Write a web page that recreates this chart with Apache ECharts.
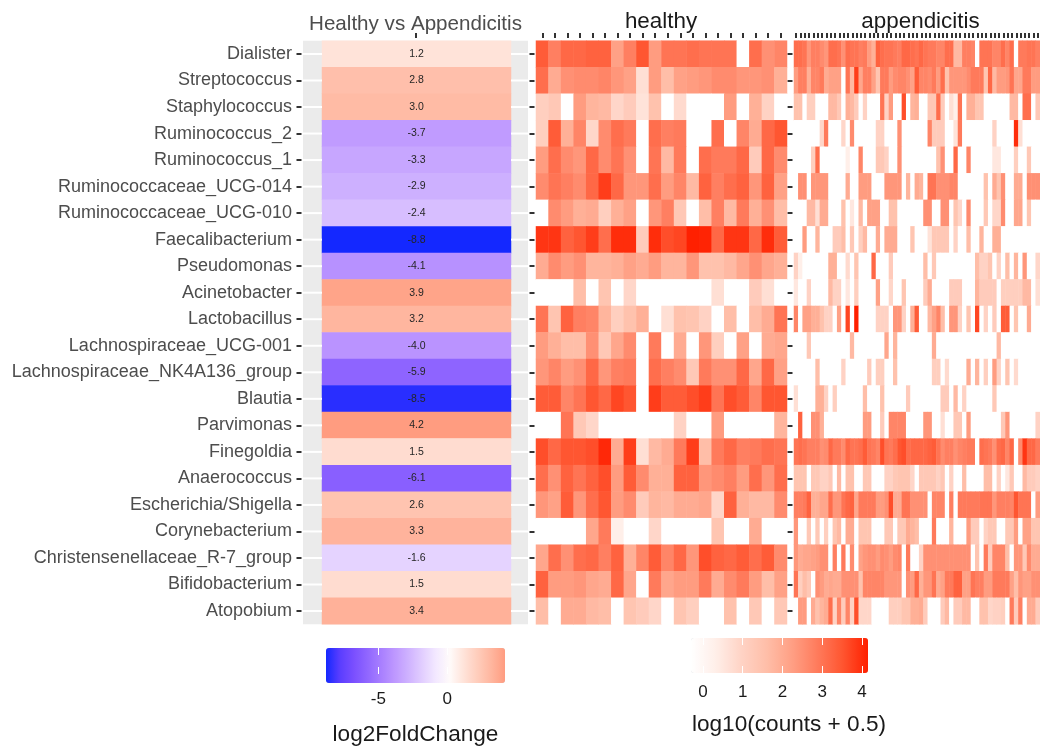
<!DOCTYPE html>
<html><head><meta charset="utf-8">
<style>html,body{margin:0;padding:0;background:#fff;overflow:hidden}#c{width:1040px;height:747px;filter:blur(0.45px)}</style>
<script src="https://cdn.jsdelivr.net/npm/echarts@6/dist/echarts.min.js"></script>
</head><body><div id="c"></div>
<script>
const taxa=["Dialister","Streptococcus","Staphylococcus","Ruminococcus_2","Ruminococcus_1","Ruminococcaceae_UCG-014","Ruminococcaceae_UCG-010","Faecalibacterium","Pseudomonas","Acinetobacter","Lactobacillus","Lachnospiraceae_UCG-001","Lachnospiraceae_NK4A136_group","Blautia","Parvimonas","Finegoldia","Anaerococcus","Escherichia/Shigella","Corynebacterium","Christensenellaceae_R-7_group","Bifidobacterium","Atopobium"];
const log2FoldChange=[1.2,2.8,3.0,-3.7,-3.3,-2.9,-2.4,-8.8,-4.1,3.9,3.2,-4.0,-5.9,-8.5,4.2,1.5,-6.1,2.6,3.3,-1.6,1.5,3.4];
const lfcTicks=[-5,0];
const countTicks=[0,1,2,3,4];
const healthy=[
[3.4,2.8,3.2,3.2,3.3,3.3,2.2,2.8,3.5,2.3,3.0,3.0,3.1,3.0,3.0,3.0,-0.3,3.1,2.5,2.7],
[3.1,2.0,2.5,2.6,2.6,2.7,2.4,2.2,0.7,2.3,1.6,2.2,2.3,2.4,2.6,2.6,2.4,2.4,2.5,1.9],
[1.1,1.3,-0.3,2.3,1.8,1.7,0.9,1.2,0.6,1.5,-0.3,0.8,-0.3,-0.3,-0.3,2.3,-0.3,1.9,1.0,-0.3],
[1.1,3.4,1.9,2.7,0.9,2.6,3.1,2.9,-0.3,3.1,2.8,2.9,-0.3,-0.3,3.1,-0.3,2.7,2.0,3.2,3.5],
[2.3,3.1,2.6,2.4,3.2,2.6,3.0,2.5,-0.3,3.0,1.7,2.9,-0.3,3.1,2.9,2.9,3.2,1.2,3.2,2.6],
[2.6,3.0,2.8,2.6,3.2,3.8,3.2,2.4,2.4,3.1,2.3,2.7,1.7,3.3,2.8,3.1,3.3,2.4,3.3,2.2],
[-0.3,2.6,2.3,1.9,2.0,1.1,1.9,2.2,-0.3,2.4,2.8,1.3,-0.3,1.6,2.8,1.7,2.9,1.9,2.5,1.6],
[3.9,3.9,3.3,3.5,3.8,3.1,4.0,4.0,1.2,4.0,3.6,3.7,4.15,4.1,3.2,3.9,3.9,3.2,4.0,3.4],
[2.0,2.6,2.3,2.5,1.8,1.8,1.9,2.2,2.0,2.3,1.8,1.8,2.4,1.5,1.5,1.7,2.1,2.5,2.1,1.9],
[-0.3,-0.3,-0.3,1.6,-0.3,1.4,-0.3,0.9,-0.3,-0.3,-0.3,-0.3,-0.3,-0.3,0.7,-0.3,-0.3,1.2,0.7,-0.3],
[3.0,1.4,3.3,2.8,2.7,1.8,1.1,1.5,1.9,-0.3,0.7,1.5,1.4,1.0,-0.3,1.6,-0.3,1.6,2.0,3.0],
[2.3,1.9,1.6,1.6,2.5,1.3,2.1,2.6,-0.3,2.9,-0.3,2.0,-0.3,2.4,1.1,-0.3,2.2,-0.3,2.0,2.1],
[2.4,2.7,2.3,2.5,3.2,2.4,2.8,2.9,-0.3,3.1,2.8,2.6,1.3,2.9,2.5,2.5,3.2,2.1,3.2,2.2],
[3.4,3.4,2.7,3.0,3.5,3.2,3.7,3.5,-0.3,3.8,3.4,3.4,3.6,3.8,3.0,3.6,3.4,2.7,3.5,3.5],
[-0.3,-0.3,3.0,1.3,0.9,-0.3,-0.3,-0.3,-0.3,-0.3,-0.3,1.0,-0.3,-0.3,2.3,-0.3,-0.3,-0.3,-0.3,1.8],
[3.6,3.2,3.5,3.5,3.6,4.05,2.0,3.8,0.7,1.7,2.0,2.9,3.8,1.6,2.9,3.2,2.8,2.9,3.1,3.0],
[3.1,2.5,3.3,3.0,3.3,3.6,2.3,3.4,2.6,1.9,1.9,3.3,3.3,2.4,2.6,2.8,2.3,3.1,2.4,3.1],
[2.4,2.2,3.4,2.4,3.1,3.5,2.3,2.6,1.2,1.8,1.7,2.0,2.0,2.1,0.9,3.3,1.9,1.7,1.7,2.6],
[-0.3,-0.3,-0.3,-0.3,2.1,2.9,0.3,-0.3,-0.3,0.9,-0.3,-0.3,-0.3,-0.3,1.4,-0.3,-0.3,2.0,-0.3,-0.3],
[2.1,3.1,2.5,3.1,3.2,2.8,3.3,1.9,2.7,3.4,2.7,3.2,2.4,3.6,3.3,3.2,3.4,3.1,3.4,2.6],
[3.3,2.3,2.3,2.4,2.1,2.0,3.2,2.1,-0.3,2.9,2.1,2.3,2.3,2.9,2.0,2.6,2.9,2.3,1.6,2.2],
[1.6,-0.3,2.0,2.0,1.7,1.6,-0.3,1.4,1.2,0.9,-0.3,1.4,1.1,-0.3,-0.3,1.5,-0.3,1.3,-0.3,1.3]];
const appendicitis=[
[3.1,3.1,3.0,2.4,2.8,2.8,2.6,2.4,3.1,3.1, 3.0,2.5,3.1,3.0,3.0,2.8,2.9,2.3,1.9,3.3, 3.1,3.0,3.0,2.9,2.8,3.2,3.2,3.1,3.0,3.2, 3.0,2.9,2.9,2.7,2.7,3.1,3.1,1.7,1.7,2.8, 2.8,2.7,-0.3,3.0,3.0,3.0,2.7,2.7,3.1,2.7, 3.1,-0.3,2.9,2.9,3.0,3.0,2.8],
[2.3,2.8,2.8,1.9,2.7,2.7,2.9,2.0,2.2,2.2, 2.2,-0.3,3.0,1.7,3.8,2.1,2.8,2.8,2.2,1.4, 2.9,2.9,2.3,2.6,2.7,2.7,2.5,2.2,3.4,2.7, 2.7,2.6,2.9,2.3,3.1,1.5,2.4,2.4,2.4,2.4, 2.6,2.9,2.9,2.9,1.4,3.2,1.7,2.3,2.3,2.4, 3.0,2.1,2.1,2.9,2.9,2.3,2.3],
[1.5,1.5,-0.3,1.1,1.1,-0.3,-0.3,-0.3,1.7,1.7, 1.3,-0.3,1.9,1.7,1.2,-0.3,1.0,-0.3,-0.3,-0.3, 3.0,1.0,2.3,-0.3,-0.3,3.6,-0.3,1.8,1.9,-0.3, -0.3,1.3,1.3,3.1,1.2,-0.3,0.7,0.3,3.0,-0.3, 1.9,1.9,1.4,1.4,-0.3,-0.3,-0.3,-0.3,-0.3,-0.3, 1.7,1.7,-0.3,3.1,3.1,-0.3,1.3],
[-0.3,-0.3,-0.3,-0.3,-0.3,-0.3,0.9,2.9,-0.3,-0.3, -0.3,0.9,-0.3,2.6,-0.3,-0.3,-0.3,-0.3,-0.3,1.0, 1.0,-0.3,-0.3,-0.3,2.5,-0.3,-0.3,-0.3,-0.3,-0.3, -0.3,2.7,1.2,1.2,1.2,-0.3,-0.3,0.6,2.9,-0.3, -0.3,-0.3,-0.3,-0.3,-0.3,-0.3,1.0,-0.3,-0.3,-0.3, -0.3,4.0,0.7,-0.3,-0.3,-0.3,-0.3],
[-0.3,-0.3,-0.3,-0.3,1.1,3.1,-0.3,-0.3,-0.3,-0.3, -0.3,-0.3,0.3,-0.3,-0.3,2.7,-0.3,-0.3,-0.3,1.3, 1.3,1.0,-0.3,-0.3,2.5,-0.3,-0.3,-0.3,-0.3,-0.3, -0.3,-0.3,-0.3,1.5,2.5,-0.3,-0.3,3.2,-0.3,-0.3, 2.7,-0.3,-0.3,-0.3,-0.3,-0.3,0.5,0.5,-0.3,-0.3, -0.3,1.1,-0.3,-0.3,1.3,-0.3,-0.3],
[-0.3,2.5,2.5,-0.3,2.4,2.4,2.4,2.4,-0.3,-0.3, -0.3,-0.3,2.0,-0.3,-0.3,2.3,2.3,2.3,-0.3,-0.3, -0.3,2.4,2.4,2.4,2.4,-0.3,1.8,-0.3,2.0,1.8, -0.3,3.0,3.0,2.5,2.5,2.5,2.7,2.7,-0.3,-0.3, -0.3,-0.3,-0.3,-0.3,1.5,-0.3,2.0,1.4,2.5,-0.3, -0.3,2.0,2.0,-0.3,2.5,2.5,2.5],
[-0.3,-0.3,-0.3,1.7,1.7,0.7,2.0,2.0,-0.3,-0.3, -0.3,1.5,-0.3,0.5,-0.3,1.7,-0.3,2.2,2.2,2.2, -0.3,-0.3,1.5,1.5,-0.3,-0.3,-0.3,-0.3,-0.3,-0.3, 2.5,2.5,-0.3,-0.3,2.5,2.5,-0.3,1.4,0.9,-0.3, 2.6,-0.3,-0.3,-0.3,1.3,-0.3,0.9,0.9,2.6,-0.3, -0.3,2.1,2.1,-0.3,1.4,-0.3,-0.3],
[-0.3,-0.3,2.3,-0.3,-0.3,1.8,-0.3,-0.3,-0.3,1.2, 1.2,1.6,-0.3,1.3,-0.3,1.1,1.7,-0.3,-0.3,2.0, -0.3,2.0,2.0,2.0,-0.3,-0.3,-0.3,1.4,-0.3,-0.3, -0.3,0.6,1.3,1.3,1.3,1.3,-0.3,1.0,-0.3,-0.3, 1.6,-0.3,-0.3,1.8,-0.3,-0.3,1.9,1.9,-0.3,-0.3, -0.3,-0.3,-0.3,-0.3,-0.3,-0.3,-0.3],
[1.0,0.3,-0.3,-0.3,-0.3,-0.3,-0.3,-0.3,1.9,1.9, -0.3,-0.3,0.8,-0.3,1.4,-0.3,-0.3,-0.3,3.2,-0.3, -0.3,-0.3,1.2,-0.3,-0.3,-0.3,-0.3,-0.3,-0.3,-0.3, 1.6,-0.3,1.3,-0.3,-0.3,-0.3,-0.3,-0.3,-0.3,-0.3, -0.3,-0.3,1.6,1.0,1.0,1.4,-0.3,1.0,-0.3,1.6, -0.3,1.8,-0.3,2.4,-0.3,-0.3,0.9],
[0.5,-0.3,-0.3,1.0,-0.3,-0.3,-0.3,-0.3,1.7,1.0, 1.0,-0.3,0.5,-0.3,1.1,-0.3,-0.3,-0.3,-0.3,2.2, -0.3,-0.3,0.9,-0.3,-0.3,1.4,-0.3,-0.3,-0.3,-0.3, 1.2,2.0,-0.3,-0.3,-0.3,-0.3,1.2,1.2,1.2,-0.3, -0.3,-0.3,1.8,1.2,1.2,1.2,1.2,-0.3,1.1,1.1, 1.1,1.1,1.1,1.7,1.7,-0.3,0.7],
[2.7,-0.3,2.2,2.2,1.9,1.9,1.5,1.0,1.0,-0.3, 2.2,-0.3,3.7,-0.3,4.15,-0.3,-0.3,-0.3,-0.3,1.0, 1.0,1.0,-0.3,2.4,2.4,1.0,-0.3,1.9,3.4,-0.3, -0.3,1.7,2.2,2.7,1.6,-0.3,2.4,2.4,1.0,-0.3, 1.4,-0.3,3.7,-0.3,1.0,-0.3,1.2,-0.3,3.4,3.4, -0.3,1.4,-0.3,-0.3,2.0,-0.3,-0.3],
[-0.3,-0.3,-0.3,1.3,-0.3,-0.3,-0.3,-0.3,-0.3,-0.3, -0.3,-0.3,-0.3,1.7,-0.3,-0.3,-0.3,-0.3,-0.3,-0.3, -0.3,2.1,-0.3,1.8,-0.3,-0.3,-0.3,-0.3,-0.3,-0.3, -0.3,-0.3,2.0,-0.3,-0.3,-0.3,-0.3,-0.3,-0.3,-0.3, -0.3,-0.3,-0.3,-0.3,-0.3,-0.3,-0.3,1.7,-0.3,-0.3, -0.3,-0.3,-0.3,-0.3,-0.3,-0.3,-0.3],
[-0.3,-0.3,-0.3,-0.3,-0.3,1.6,-0.3,-0.3,-0.3,-0.3, -0.3,1.0,-0.3,-0.3,-0.3,-0.3,-0.3,1.2,-0.3,1.1, 1.1,-0.3,-0.3,1.5,-0.3,-0.3,-0.3,-0.3,-0.3,-0.3, -0.3,-0.3,1.1,1.1,-0.3,0.8,-0.3,-0.3,-0.3,-0.3, 2.0,-0.3,1.8,-0.3,1.1,-0.3,2.3,1.0,-0.3,1.4, -0.3,0.8,-0.3,-0.3,-0.3,-0.3,-0.3],
[0.7,-0.3,-0.3,-0.3,-0.3,1.9,1.9,1.0,-0.3,1.1, -0.3,-0.3,-0.3,-0.3,-0.3,-0.3,1.6,-0.3,-0.3,-0.3, 1.5,-0.3,-0.3,-0.3,-0.3,-0.3,1.2,-0.3,-0.3,-0.3, -0.3,-0.3,-0.3,-0.3,1.2,1.2,-0.3,1.7,-0.3,1.0, -0.3,-0.3,-0.3,-0.3,-0.3,-0.3,1.3,-0.3,-0.3,-0.3, -0.3,-0.3,-0.3,-0.3,-0.3,-0.3,-0.3],
[-0.3,3.3,-0.3,-0.3,2.5,2.5,1.9,-0.3,-0.3,-0.3, -0.3,-0.3,-0.3,-0.3,-0.3,-0.3,2.3,2.3,-0.3,-0.3, 1.2,-0.3,2.7,2.7,2.7,2.7,-0.3,-0.3,-0.3,-0.3, 2.4,2.4,-0.3,-0.3,0.7,-0.3,-0.3,1.3,1.3,-0.3, 2.3,-0.3,-0.3,-0.3,-0.3,-0.3,-0.3,-0.3,1.3,2.4, -0.3,-0.3,-0.3,-0.3,-0.3,-0.3,1.0],
[3.0,3.1,3.0,2.8,2.8,2.8,2.5,2.6,3.2,2.9, 2.9,2.6,3.2,3.0,3.0,3.1,3.4,3.0,2.9,2.7, 3.6,3.0,2.9,3.1,3.5,3.6,3.1,3.2,3.2,3.2, 3.2,3.3,3.4,3.0,2.6,2.8,2.8,2.5,2.7,2.8, 2.9,2.9,-0.3,3.1,3.0,2.9,2.5,3.1,3.2,2.7, 3.2,-0.3,2.6,3.9,3.2,3.2,2.9],
[1.4,1.4,1.4,-0.3,1.3,1.3,1.0,1.0,1.3,-0.3, 1.7,-0.3,1.5,1.5,-0.3,-0.3,1.3,1.3,-0.3,-0.3, -0.3,1.0,1.0,1.3,1.4,1.4,1.4,0.9,-0.3,1.3, 1.3,1.3,1.3,1.0,1.3,-0.3,1.0,-0.3,-0.3,1.6, -0.3,-0.3,-0.3,-0.3,1.6,1.6,-0.3,1.0,-0.3,0.5, 1.3,-0.3,-0.3,1.7,1.2,1.2,1.0],
[2.8,2.8,2.9,3.3,1.9,1.9,2.1,2.1,3.1,2.4, 2.4,3.0,3.2,3.3,2.1,2.9,2.9,2.9,2.9,2.3, 2.3,2.5,3.6,2.0,2.0,3.0,3.0,2.5,2.5,2.5, 2.5,-0.3,2.7,2.7,2.7,-0.3,2.8,-0.3,2.9,2.9, 2.9,2.9,2.9,3.0,3.0,3.0,2.4,2.8,2.8,2.8, 2.7,3.5,3.0,3.0,3.0,-0.3,2.3],
[2.4,-0.3,-0.3,1.3,-0.3,1.3,-0.3,1.1,-0.3,1.4, 1.7,-0.3,2.0,2.0,-0.3,1.4,1.4,1.4,-0.3,-0.3, -0.3,1.3,1.3,-0.3,1.3,1.3,2.0,1.8,1.6,-0.3, -0.3,-0.3,2.9,-0.3,-0.3,-0.3,1.8,-0.3,-0.3,-0.3, 2.3,1.2,1.2,-0.3,1.0,1.3,1.3,-0.3,-0.3,1.3, 1.3,2.3,-0.3,2.2,2.2,1.4,1.4],
[2.4,2.0,2.1,2.1,2.2,2.3,2.5,2.5,-0.3,2.8, -0.3,2.9,-0.3,2.6,-0.3,2.2,2.4,2.5,2.5,2.3, 2.6,2.5,2.3,2.6,2.7,-0.3,2.9,-0.3,-0.3,1.0, 2.5,2.5,2.5,2.5,2.5,2.5,2.5,2.5,2.5,2.5, 2.5,-0.3,1.4,-0.3,2.9,1.2,2.7,2.7,2.7,1.6, -0.3,2.4,2.4,1.3,2.6,2.0,2.0],
[3.0,1.1,1.6,1.3,-0.3,2.5,2.3,2.0,2.1,2.0, 2.0,2.5,2.5,2.5,2.5,1.5,2.7,2.7,2.7,2.7, 2.7,2.4,2.4,2.4,2.4,-0.3,2.5,2.3,3.2,1.9, 2.4,2.4,3.0,2.0,2.2,2.9,2.9,3.3,3.3,2.2, 2.2,3.0,2.8,2.8,2.3,2.3,2.9,2.9,2.9,2.9, 2.2,1.6,2.4,2.2,2.2,2.5,2.5],
[-0.3,2.3,2.3,-0.3,2.0,1.5,1.8,2.0,3.1,1.0, 2.7,1.2,2.7,1.0,3.6,0.9,0.9,0.9,-0.3,-0.3, -0.3,-0.3,1.1,1.1,1.1,1.4,1.4,1.9,1.9,2.0, 1.2,-0.3,-0.3,-0.3,1.2,1.7,-0.3,1.2,1.2,1.7, 1.7,-0.3,-0.3,1.5,1.5,0.9,1.0,1.0,1.1,-0.3, 2.9,1.2,2.8,-0.3,2.0,2.0,1.2]];

const FONT='"Liberation Sans",Arial,sans-serif';
const TOP=40.7,H=583.6;
const cells=m=>m.flatMap((row,r)=>row.map((v,c)=>[c,r,v]));
const hCols=healthy[0].map((_,i)=>'h'+(i+1));
const aCols=appendicitis[0].map((_,i)=>'a'+(i+1));
const tick={show:true,alignWithLabel:true,interval:0,length:5,lineStyle:{color:'#333',width:2}};
const none={show:false};
const panelY=(g,labels)=>({type:'category',gridIndex:g,data:taxa,inverse:true,offset:labels===null?0:1.5,
  axisLine:none,axisTick:labels===null?none:tick,
  axisLabel:labels?{show:true,interval:0,color:'#4d4d4d',fontSize:18,fontFamily:FONT,margin:9.5}:none,
  splitLine:none});
const panelX=(g,data,t)=>({type:'category',gridIndex:g,data,position:'top',offset:t?2.7:0,
  axisLine:none,axisTick:t?tick:none,axisLabel:none,splitLine:none});
const legendTop=(g,min,max,vals)=>({type:'value',gridIndex:g,min,max,z:10,position:'top',axisLine:none,splitLine:none,axisLabel:none,
  axisTick:{show:true,inside:true,length:7,customValues:vals,lineStyle:{color:'#fff',width:1}}});
const titleStyle=(color,fontSize)=>({color,fontSize,fontWeight:'normal',fontFamily:FONT});

const option={
  animation:false,backgroundColor:'#fff',
  title:[
    {text:'Healthy vs Appendicitis',left:415.5,top:14,padding:0,textAlign:'center',textStyle:titleStyle('#4d4d4d',20.6)},
    {text:'healthy',left:661,top:11,padding:0,textAlign:'center',textStyle:titleStyle('#1a1a1a',22.4)},
    {text:'appendicitis',left:920.5,top:11,padding:0,textAlign:'center',textStyle:titleStyle('#1a1a1a',22.4)}
  ],
  grid:[
    {left:303,top:TOP,width:225,height:H,show:true,backgroundColor:'#ebebeb',borderWidth:0},
    {left:322,top:TOP,width:189,height:H},
    {left:536,top:TOP,width:251,height:H},
    {left:794,top:TOP,width:246.8,height:H},
    {left:326,top:648,width:179,height:35},
    {left:691,top:638,width:177,height:35}
  ],
  xAxis:[
    panelX(0,['lfc'],true),
    panelX(1,['lfc'],false),
    panelX(2,hCols,true),
    panelX(3,aCols,true),
    {type:'value',gridIndex:4,min:-8.8,max:4.2,z:10,position:'bottom',axisLine:none,splitLine:none,
      axisTick:{show:true,inside:true,length:7,customValues:lfcTicks,lineStyle:{color:'#fff',width:1}},
      axisLabel:{show:true,customValues:lfcTicks,color:'#1a1a1a',fontSize:17,fontFamily:FONT,margin:17},
      name:'log2FoldChange',nameLocation:'middle',nameGap:49,nameTextStyle:{color:'#1a1a1a',fontSize:22.6,fontFamily:FONT}},
    {type:'value',gridIndex:5,min:-0.3,max:4.15,z:10,position:'bottom',axisLine:none,splitLine:none,
      axisTick:{show:true,inside:true,length:7,customValues:countTicks,lineStyle:{color:'#fff',width:1}},
      axisLabel:{show:true,customValues:countTicks,color:'#1a1a1a',fontSize:17,fontFamily:FONT,margin:11},
      name:'log10(counts + 0.5)',nameLocation:'middle',nameGap:40,nameTextStyle:{color:'#1a1a1a',fontSize:22.6,fontFamily:FONT,padding:[0,0,0,19]}},
    legendTop(4,-8.8,4.2,lfcTicks),
    legendTop(5,-0.3,4.15,countTicks)
  ],
  yAxis:[
    panelY(0,true),
    panelY(1,null),
    panelY(2,false),
    panelY(3,false),
    {type:'value',gridIndex:4,min:0,max:1,show:false},
    {type:'value',gridIndex:5,min:0,max:1,show:false}
  ],
  visualMap:[
    {type:'continuous',seriesIndex:0,dimension:2,min:-8.8,max:4.2,orient:'horizontal',left:326,top:648,itemWidth:35,itemHeight:179,padding:0,calculable:false,realtime:false,text:null,showLabel:false,hoverLink:false,
     inRange:{color:['#1428ff','#5a3dff','#7a4fff','#9066ff','#a87fff','#be98ff','#cfb3ff','#e2ceff','#f3e9ff','#fffbfa','#ffe3d9','#ffcdbc','#ffb69f','#ff9c80']},textStyle:{fontSize:0}},
    {type:'continuous',seriesIndex:[1,2],dimension:2,min:-0.3,max:4.15,orient:'horizontal',left:691,top:638,itemWidth:35,itemHeight:177,padding:0,calculable:false,realtime:false,text:null,hoverLink:false,
     inRange:{color:['#ffffff','#ffeee8','#ffd3c5','#ffbea8','#ff9f84','#ff7b5c','#ff5530','#ff2000']},textStyle:{fontSize:0}}
  ],
  series:[
    {type:'heatmap',xAxisIndex:1,yAxisIndex:1,data:log2FoldChange.map((v,r)=>[0,r,v]),
      label:{show:true,fontSize:10.5,color:'#262626',fontFamily:FONT,formatter:p=>p.value[2].toFixed(1)},itemStyle:{borderWidth:0}},
    {type:'heatmap',xAxisIndex:2,yAxisIndex:2,data:cells(healthy),label:none},
    {type:'heatmap',xAxisIndex:3,yAxisIndex:3,data:cells(appendicitis),label:none},
    {type:'custom',coordinateSystem:'cartesian2d',xAxisIndex:0,yAxisIndex:0,z:20,silent:true,clip:false,
      encode:{x:0,y:1},data:taxa.map((t,r)=>[0,r]),
      renderItem:(params,api)=>{
        const y=api.coord([0,params.dataIndex])[1];
        const s=params.coordSys,st={stroke:'#ffffff',lineWidth:2};
        return {type:'group',children:[
          {type:'line',shape:{x1:s.x,y1:y,x2:s.x+19,y2:y},style:st},
          {type:'line',shape:{x1:s.x+208,y1:y,x2:s.x+s.width,y2:y},style:st}
        ]};
      }}
  ]
};
const chart=echarts.init(document.getElementById('c'),null,{renderer:'canvas',width:1040,height:747});
chart.setOption(option);
</script></body></html>
